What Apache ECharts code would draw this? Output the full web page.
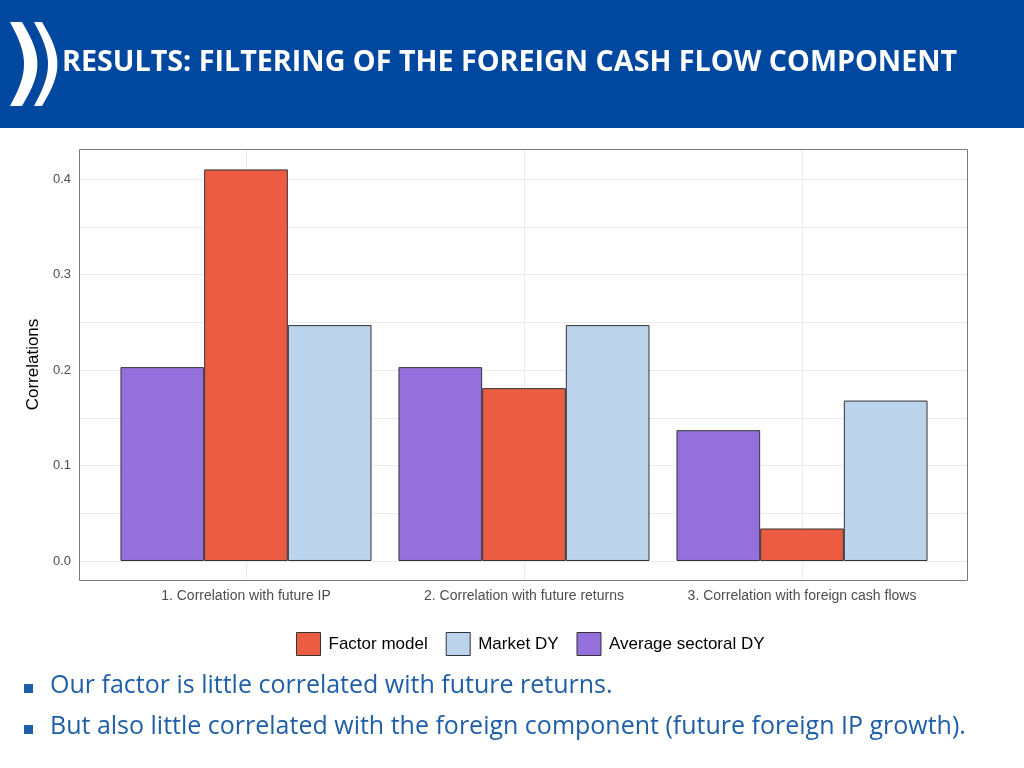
<!DOCTYPE html>
<html lang="en">
<head>
    <meta charset="UTF-8">
    <title>Results</title>
    <script src="https://cdn.jsdelivr.net/npm/echarts@6/dist/echarts.min.js"></script>
    <style>
        body { margin: 0; background: #fff; }
        #main { width: 1024px; height: 768px; }
    </style>
</head>
<body>
<div id="main"></div>
<script type="text/javascript">
    var categories = ['1. Correlation with future IP', '2. Correlation with future returns', '3. Correlation with foreign cash flows'];
    var sectoralDY = [0.203, 0.203, 0.137];
    var factorModel = [0.410, 0.181, 0.034];
    var marketDY = [0.247, 0.247, 0.168];
    var yTicks = [0, 0.1, 0.2, 0.3, 0.4];
    var gridLines = [0, 0.05, 0.1, 0.15, 0.2, 0.25, 0.3, 0.35, 0.4];
    var bullets = ['Our factor is little correlated with future returns.',
        'But also little correlated with the foreign component (future foreign IP growth).'];

    // bracket logo outline
    function bracket(x0, w, d) {
        var pts = [];
        for (var i = 0; i <= 20; i++) {
            var t = i / 20;
            pts.push([x0 + d * Math.sin(Math.PI * t), 22 + 84 * t]);
        }
        for (var j = 20; j >= 0; j--) {
            var s = j / 20;
            pts.push([x0 + w + d * Math.sin(Math.PI * s) * 1.1, 22 + 84 * s]);
        }
        return pts;
    }

    var myChart = echarts.init(document.getElementById('main'));
    var barStyle = function (c) { return { color: c, borderColor: '#333', borderWidth: 1 }; };
    var graphics = [
        { type: 'rect', left: 0, top: 0, shape: { width: 1024, height: 128 }, style: { fill: '#0047a0' } },
        { type: 'polygon', shape: { points: bracket(10, 12, 14) }, style: { fill: '#fff' } },
        { type: 'polygon', shape: { points: bracket(34, 8, 14) }, style: { fill: '#fff' } },
        { type: 'text', x: 62, y: 48, style: { text: 'RESULTS: FILTERING OF THE FOREIGN CASH FLOW COMPONENT', fill: '#fff', fontSize: 28.7, fontWeight: 'bold', fontFamily: 'Open Sans' } },
        { type: 'rect', x: 79.5, y: 149.5, z: 10, shape: { width: 888, height: 431 }, style: { fill: 'none', stroke: '#7a7a7a', lineWidth: 1 } },
        { type: 'rect', x: 24, y: 684, shape: { width: 9, height: 9 }, style: { fill: '#1f5fa8' } },
        { type: 'text', x: 50, y: 673, style: { text: bullets[0], fill: '#1f5fa8', fontSize: 25, fontFamily: 'Open Sans' } },
        { type: 'rect', x: 24, y: 725, shape: { width: 9, height: 9 }, style: { fill: '#1f5fa8' } },
        { type: 'text', x: 50, y: 714, style: { text: bullets[1], fill: '#1f5fa8', fontSize: 25, fontFamily: 'Open Sans' } }
    ];
    var option = {
        animation: false,
        textStyle: { fontFamily: 'Liberation Sans' },
        graphic: graphics,
        legend: {
            data: ['Factor model', 'Market DY', 'Average sectoral DY'],
            top: 627, left: 291, icon: 'rect',
            itemWidth: 24, itemHeight: 23, itemGap: 18,
            itemStyle: { borderColor: '#333', borderWidth: 1 },
            textStyle: { fontSize: 17, color: '#000', padding: [0, 0, 0, 3] }
        },
        grid: { left: 107, top: 149, width: 834, height: 431 },
        xAxis: {
            type: 'category', data: categories,
            axisLine: { show: false }, axisTick: { show: false },
            axisLabel: { color: '#4d4d4d', fontSize: 14, margin: 9, interval: 0 },
            splitLine: { show: false }
        },
        yAxis: {
            type: 'value', min: -0.0199, max: 0.4314,
            name: 'Correlations', nameLocation: 'middle', nameGap: 63, nameRotate: 90,
            nameTextStyle: { fontSize: 17, color: '#000' },
            axisLine: { show: false }, axisTick: { show: false },
            axisLabel: {
                color: '#4d4d4d', fontSize: 13, margin: 36,
                customValues: yTicks, formatter: function (v) { return v.toFixed(1); }
            },
            splitLine: { show: false }
        },
        series: [
            { name: 'Average sectoral DY', type: 'bar', data: sectoralDY, itemStyle: barStyle('#9370db'),
              barGap: '0%', barCategoryGap: '9.7%', z: 3 },
            { name: 'Factor model', type: 'bar', data: factorModel, itemStyle: barStyle('#eb5c43'), z: 3 },
            { name: 'Market DY', type: 'bar', data: marketDY, itemStyle: barStyle('#bcd3ec'), z: 3 }
        ]
    };
    myChart.setOption(option);

    // background grid lines, placed through the axes' scales
    gridLines.forEach(function (v) {
        var y = Math.round(myChart.convertToPixel({ yAxisIndex: 0 }, v)) + 0.5;
        graphics.push({ type: 'line', z: 0, shape: { x1: 80, y1: y, x2: 967, y2: y }, style: { stroke: '#ebebeb', lineWidth: 1 } });
    });
    categories.forEach(function (c) {
        var x = Math.round(myChart.convertToPixel({ xAxisIndex: 0 }, c)) + 0.5;
        graphics.push({ type: 'line', z: 0, shape: { x1: x, y1: 150, x2: x, y2: 580 }, style: { stroke: '#ebebeb', lineWidth: 1 } });
    });
    myChart.setOption({ graphic: graphics });
</script>
</body>
</html>
